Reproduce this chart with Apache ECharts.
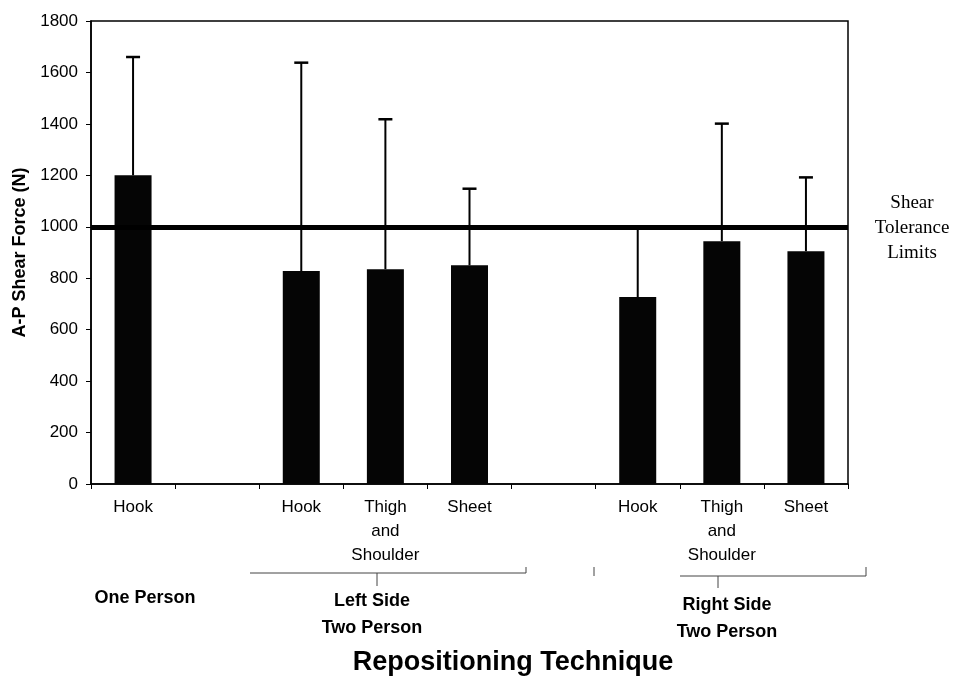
<!DOCTYPE html>
<html><head><meta charset="utf-8">
<script src="https://cdn.jsdelivr.net/npm/echarts@6/dist/echarts.min.js"></script>
<style>html,body{margin:0;padding:0;background:#fff}#c{width:962px;height:679px}</style>
</head><body><div id="c"></div>
<script>
// ---- data ----
const categories = ['Hook', '', 'Hook', 'Thigh\nand\nShoulder', 'Sheet', '', 'Hook', 'Thigh\nand\nShoulder', 'Sheet'];
const meanForce = [1200, '-', 828, 835, 850, '-', 727, 944, 905];
const errorTop  = [1660, '-', 1638, 1418, 1148, '-', 996, 1401, 1192];
const yMin = 0, yMax = 1800, yInterval = 200;
const toleranceLimit = 997;
const groupLabels = ['One Person', 'Left Side\nTwo Person', 'Right Side\nTwo Person'];
const toleranceText = 'Shear\nTolerance\nLimits';
const xTitle = 'Repositioning Technique';
const yTitle = 'A-P Shear Force (N)';

const errData = [];
meanForce.forEach((v, i) => { if (v !== '-') errData.push([i, v, errorTop[i]]); });

const SANS = 'Liberation Sans, Arial, sans-serif';
const SERIF = 'Liberation Serif, Times New Roman, serif';
const chart = echarts.init(document.getElementById('c'));
const bracketStyle = { stroke: '#444', lineWidth: 1 };

chart.setOption({
  animation: false,
  backgroundColor: '#fff',
  grid: { left: 91, right: 114, top: 21, bottom: 195, show: true, borderColor: '#000', borderWidth: 1.5, backgroundColor: 'transparent' },
  xAxis: {
    type: 'category', data: categories, boundaryGap: true,
    axisLine: { lineStyle: { color: '#000', width: 1.5 } },
    axisTick: { show: true, length: 5, interval: 0, lineStyle: { color: '#000', width: 1 } },
    axisLabel: { interval: 0, color: '#000', fontFamily: SANS, fontSize: 17, lineHeight: 24, margin: 11 },
    splitLine: { show: false }
  },
  yAxis: {
    type: 'value', min: yMin, max: yMax, interval: yInterval,
    name: yTitle, nameLocation: 'middle', nameRotate: 90, nameGap: 59,
    nameTextStyle: { color: '#000', fontFamily: SANS, fontSize: 18, fontWeight: 'bold' },
    axisLine: { show: true, lineStyle: { color: '#000', width: 1.5 } },
    axisTick: { show: true, length: 5, lineStyle: { color: '#000' } },
    axisLabel: { color: '#000', fontFamily: SANS, fontSize: 17, margin: 13, formatter: v => String(v) },
    splitLine: { show: false }
  },
  series: [
    {
      type: 'bar', data: meanForce, barWidth: 37,
      itemStyle: { color: '#050505' },
      z: 4,
      markLine: {
        silent: true, symbol: 'none', label: { show: false }, z: 6,
        lineStyle: { color: '#000', width: 5, type: 'solid' },
        data: [{ yAxis: toleranceLimit }]
      }
    },
    {
      type: 'custom', data: errData, z: 3,
      renderItem(params, api) {
        const x = api.value(0), lo = api.value(1), hi = api.value(2);
        const p0 = api.coord([x, lo]), p1 = api.coord([x, hi]);
        return { type: 'group', children: [
          { type: 'line', shape: { x1: p0[0], y1: p0[1], x2: p1[0], y2: p1[1] }, style: { stroke: '#000', lineWidth: 2 } },
          { type: 'line', shape: { x1: p1[0] - 7, y1: p1[1], x2: p1[0] + 7, y2: p1[1] }, style: { stroke: '#000', lineWidth: 2.5 } }
        ] };
      }
    }
  ],
  graphic: [
    // brackets
    { type: 'line', shape: { x1: 250, y1: 573, x2: 526, y2: 573 }, style: bracketStyle },
    { type: 'line', shape: { x1: 526, y1: 567, x2: 526, y2: 573 }, style: bracketStyle },
    { type: 'line', shape: { x1: 377, y1: 573, x2: 377, y2: 586 }, style: bracketStyle },
    { type: 'line', shape: { x1: 594, y1: 567, x2: 594, y2: 576 }, style: bracketStyle },
    { type: 'line', shape: { x1: 680, y1: 576, x2: 866, y2: 576 }, style: bracketStyle },
    { type: 'line', shape: { x1: 866, y1: 567, x2: 866, y2: 576 }, style: bracketStyle },
    { type: 'line', shape: { x1: 718, y1: 576, x2: 718, y2: 588 }, style: bracketStyle },
    // group labels
    { type: 'text', x: 145, y: 598, style: { text: groupLabels[0], font: 'bold 18px ' + SANS, fill: '#000', align: 'center', verticalAlign: 'middle' } },
    { type: 'text', x: 372, y: 615, style: { text: groupLabels[1], font: 'bold 18px ' + SANS, fill: '#000', align: 'center', verticalAlign: 'middle', lineHeight: 27 } },
    { type: 'text', x: 727, y: 619, style: { text: groupLabels[2], font: 'bold 18px ' + SANS, fill: '#000', align: 'center', verticalAlign: 'middle', lineHeight: 27 } },
    // x title
    { type: 'text', x: 513, y: 663, style: { text: xTitle, font: 'bold 27px ' + SANS, fill: '#000', align: 'center', verticalAlign: 'middle' } },
    // tolerance text
    { type: 'text', x: 912, y: 228, style: { text: toleranceText, font: '19px ' + SERIF, fill: '#000', align: 'center', verticalAlign: 'middle', lineHeight: 25 } }
  ]
});
</script>
</body></html>
